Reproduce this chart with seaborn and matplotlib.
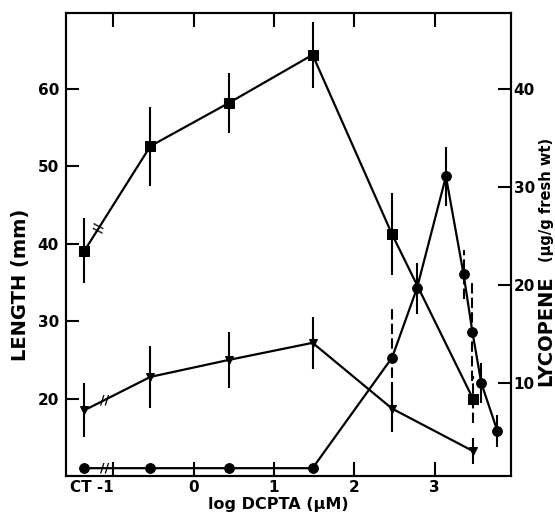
import matplotlib
matplotlib.use('Agg')
import matplotlib.pyplot as plt
import seaborn as sns
import numpy as np

# x axis: log DCPTA (uM); the control (CT) sits left of the axis break
ct_pos = -1.36
log_conc = [-0.54, 0.44, 1.48, 2.47, 3.48]

# length (mm), squares
length_sq = [39.1, 52.6, 58.2, 64.4, 41.2, 19.9]
length_sq_err = [4.2, 5.1, 3.9, 4.3, 5.3, 3.0]

# length (mm), triangles
length_tri = [18.5, 22.8, 25.0, 27.2, 18.7, 13.2]
length_tri_err = [3.5, 4.0, 3.6, 3.4, 3.0, 1.7]

# lycopene (ug/g fresh wt), circles
lyco_conc = [-0.54, 0.44, 1.48, 2.47, 2.78, 3.14, 3.36, 3.47, 3.58, 3.78]
lyco = [1.3, 1.3, 1.3, 1.3, 12.6, 19.7, 31.1, 21.1, 15.2, 10.0, 5.1]
lyco_err = [0, 0, 0, 0, 5.0, 2.6, 3.0, 2.5, 5.0, 2.0, 1.6]
lyco_dashed = [False, False, False, False, True, False, False, True, True, False, False]

x_ticks = [-1, 0, 1, 2, 3]
x_ticklabels = ['CT -1', '0', '1', '2', '3']
left_ticks = [20, 30, 40, 50, 60]
right_ticks = [10, 20, 30, 40]

sns.set_style('ticks')
plt.rcParams['font.family'] = ['DejaVu Sans']
plt.rcParams.update({
    'text.color': 'black',
    'xtick.color': 'black',
    'ytick.color': 'black',
    'axes.edgecolor': 'black',
})

fig, ax = plt.subplots(figsize=(5.55, 5.19), dpi=100)
fig.subplots_adjust(left=66 / 555, right=511 / 555, bottom=1 - 476 / 519, top=1 - 13 / 519)
ax2 = ax.twinx()

sq_x = [ct_pos] + log_conc
ly_x = [ct_pos] + lyco_conc

lw = 1.6
sns.lineplot(x=sq_x, y=length_sq, ax=ax, sort=False, estimator=None, color='black',
             linewidth=lw, marker='s', markersize=7, markeredgecolor='black')
sns.lineplot(x=sq_x, y=length_tri, ax=ax, sort=False, estimator=None, color='black',
             linewidth=lw, marker='v', markersize=6, markeredgecolor='black')
sns.lineplot(x=ly_x, y=lyco, ax=ax2, sort=False, estimator=None, color='black',
             linewidth=lw, marker='o', markersize=7, markeredgecolor='black')

dash = (0, (5, 2))
# error bars
for i, (xx, yy, ee) in enumerate(zip(sq_x, length_sq, length_sq_err)):
    ax.vlines(xx, yy - ee, yy + ee, colors='black', linewidth=1.5,
              linestyles=dash if i == len(sq_x) - 1 else 'solid')
for xx, yy, ee in zip(sq_x, length_tri, length_tri_err):
    ax.vlines(xx, yy - ee, yy + ee, colors='black', linewidth=1.5)
for xx, yy, ee, d in zip(ly_x, lyco, lyco_err, lyco_dashed):
    if ee > 0:
        ax2.vlines(xx, yy - ee, yy + ee, colors='black', linewidth=1.5,
                   linestyles=dash if d else 'solid')

# axis-break marks on the segment after the control
def break_mark(axis, ys, frac, rot):
    bx = sq_x[0] + frac * (sq_x[1] - sq_x[0])
    by = ys[0] + frac * (ys[1] - ys[0])
    axis.text(bx, by, '//', ha='center', va='center', fontsize=9,
              fontweight='bold', rotation=rot, color='black')

break_mark(ax, length_sq, 0.22, 80)
break_mark(ax, length_tri, 0.30, 0)
break_mark(ax2, lyco, 0.30, 0)

ax.set_xlim(-1.59, 3.95)
ax.set_ylim(10, 69.8)
ax2.set_ylim(0.5, 47.8)

ax.set_xticks(x_ticks)
ax.set_xticklabels(x_ticklabels)
ax.set_yticks(left_ticks)
ax2.set_yticks(right_ticks)

ax.tick_params(axis='x', direction='in', length=10, width=1.5, top=True,
               labelsize=11, pad=3)
ax.tick_params(axis='y', direction='in', length=9, width=1.5, labelsize=11, pad=5)
ax2.tick_params(axis='y', direction='in', length=9.5, width=1.5, labelsize=11, pad=2)
for lab in ax.get_xticklabels() + ax.get_yticklabels() + ax2.get_yticklabels():
    lab.set_fontweight('bold')
ax.get_xticklabels()[0].set_ha('right')
ax.get_xticklabels()[0].set_x(-0.97)

for a in (ax, ax2):
    for s in a.spines.values():
        s.set_linewidth(1.5)
        s.set_color('black')
    a.set_xlabel('')
    a.set_ylabel('')

fig.text(21 / 555, 1 - 285 / 519, 'LENGTH (mm)', rotation=90, ha='center', va='center',
         fontsize=14, fontweight='bold')
fig.text(546 / 555, 1 - 331 / 519, 'LYCOPENE', rotation=90, ha='center', va='center',
         fontsize=14, fontweight='bold')
fig.text(546 / 555, 1 - 200 / 519, '(µg/g fresh wt)', rotation=90, ha='center', va='center',
         fontsize=10.5, fontweight='bold')
fig.text(278 / 555, 1 - 505 / 519, 'log DCPTA (µM)', ha='center', va='center',
         fontsize=11.5, fontweight='bold')

fig.savefig('out.png', dpi=100)
